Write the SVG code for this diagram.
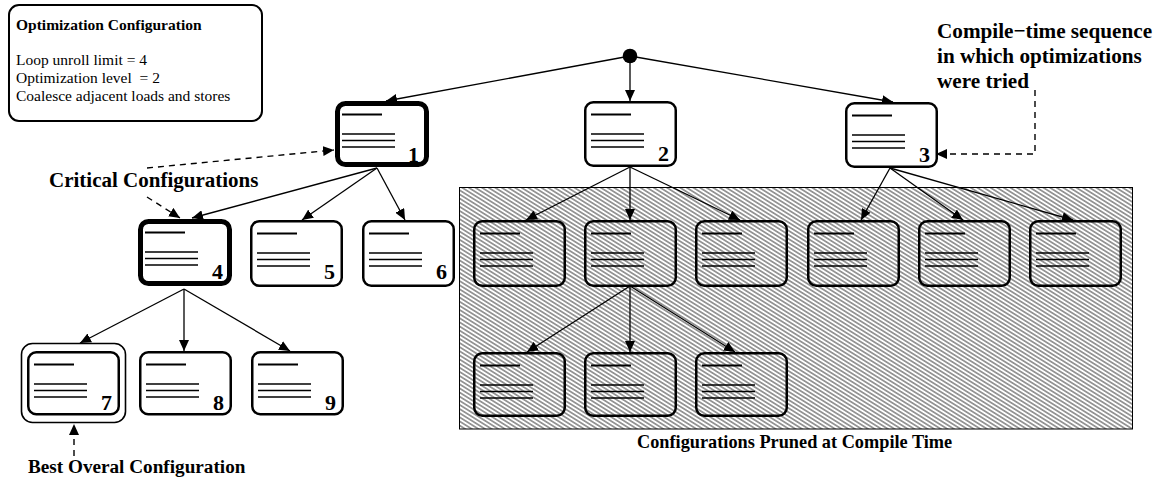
<svg xmlns="http://www.w3.org/2000/svg" xmlns:xlink="http://www.w3.org/1999/xlink" width="1155" height="479" viewBox="0 0 1155 479">
<style>
.box{fill:#fff;stroke:#000;stroke-width:2.5}
.hbox{fill:none;stroke:#000;stroke-width:2.5}
.thick{fill:#fff;stroke:#000;stroke-width:5}
.sl{stroke:#000;stroke-width:2.2}
.ll{stroke:#000;stroke-width:1.3}
.num{font-family:"Liberation Serif",serif;font-weight:bold;font-size:22px;text-anchor:end}
.lbl{font-family:"Liberation Serif",serif;font-weight:bold;font-size:20px}
.cfg{font-family:"Liberation Serif",serif;font-size:15.5px}
.edge{stroke:#000;stroke-width:1.3;fill:none;marker-end:url(#ah)}
.dash{stroke:#000;stroke-width:1.4;fill:none;stroke-dasharray:6,5;marker-end:url(#ah)}
</style>
<defs>
<marker id="ah" markerUnits="userSpaceOnUse" markerWidth="11" markerHeight="10" refX="11" refY="5" orient="auto">
<path d="M0,0 L11,5 L0,10 z" fill="#000"/>
</marker>
<pattern id="hatch" patternUnits="userSpaceOnUse" width="10" height="3.5" patternTransform="rotate(32)">
<line x1="0" y1="1.75" x2="10" y2="1.75" stroke="#111" stroke-width="0.85"/>
</pattern>
<g id="lines">
<line class="sl" x1="7" y1="13.5" x2="47" y2="13.5"/>
<line class="ll" x1="7" y1="33" x2="60" y2="33"/>
<line class="ll" x1="7" y1="39.5" x2="60" y2="39.5"/>
<line class="ll" x1="7" y1="46" x2="60" y2="46"/>
</g>
</defs>
<rect width="1155" height="479" fill="#fff"/>

<!-- Configuration legend -->
<g id="config">
<rect x="9" y="5" width="253" height="116" rx="10" fill="#fff" stroke="#000" stroke-width="2"/>
<text x="16" y="30" class="cfg" style="font-weight:bold">Optimization Configuration</text>
<text x="16" y="65" class="cfg">Loop unroll limit = 4</text>
<text x="16" y="83" class="cfg" xml:space="preserve">Optimization level  = 2</text>
<text x="16" y="101" class="cfg">Coalesce adjacent loads and stores</text>
</g>

<!-- Pruned region -->
<g id="pruned">
<rect x="459.5" y="187.5" width="673" height="241.5" fill="url(#hatch)" stroke="#000" stroke-width="1"/>
<text x="637" y="448" class="lbl" style="font-size:18.3px">Configurations Pruned at Compile Time</text>
</g>

<!-- root -->
<g id="root"><circle cx="630" cy="56" r="7.3" fill="#000"/></g>

<!-- connectors -->
<g id="connectors">
<line class="edge" x1="630" y1="56" x2="386" y2="101"/>
<line class="edge" x1="630" y1="56" x2="630" y2="101"/>
<line class="edge" x1="630" y1="56" x2="893" y2="102"/>
<line class="edge" x1="377" y1="168" x2="192" y2="218"/>
<line class="edge" x1="377" y1="168" x2="302" y2="220"/>
<line class="edge" x1="377" y1="168" x2="405" y2="220"/>
<line class="edge" x1="630" y1="167" x2="526" y2="220"/>
<line class="edge" x1="630" y1="167" x2="630" y2="220"/>
<line class="edge" x1="630" y1="167" x2="740" y2="220"/>
<line class="edge" x1="890" y1="168" x2="861" y2="220"/>
<line class="edge" x1="890" y1="168" x2="963" y2="220"/>
<line class="edge" x1="890" y1="168" x2="1073" y2="220"/>
<line class="edge" x1="184" y1="289" x2="80" y2="343"/>
<line class="edge" x1="184" y1="289" x2="184" y2="351"/>
<line class="edge" x1="184" y1="289" x2="290" y2="351"/>
<line class="edge" x1="630" y1="286" x2="527" y2="352"/>
<line class="edge" x1="630" y1="286" x2="630" y2="352"/>
<line class="edge" x1="630" y1="286" x2="735" y2="352"/>
<line class="dash" x1="147" y1="168" x2="334" y2="150"/>
<line class="dash" x1="147" y1="197" x2="180" y2="218"/>
<polyline class="dash" points="1035,90 1035,154 936,154"/>
<line class="dash" x1="74" y1="456" x2="74" y2="424"/>
</g>

<!-- labels -->
<g id="labels">
<text x="49" y="187" class="lbl" style="font-size:21px">Critical Configurations</text>
<text x="28" y="473" class="lbl" style="font-size:19.2px">Best Overal Configuration</text>
<text x="937" y="38" class="lbl" style="font-size:21.2px">Compile−time sequence</text>
<text x="937" y="63" class="lbl" style="font-size:21.2px">in which optimizations</text>
<text x="937" y="88" class="lbl" style="font-size:21.2px">were tried</text>
</g>

<!-- nodes -->
<g id="n1" transform="translate(335,101)"><rect class="thick" x="2.5" y="2.5" width="89" height="61" rx="8"/><use xlink:href="#lines"/><text class="num" x="84" y="61">1</text></g>
<g id="n2" transform="translate(584,101)"><rect class="box" x="1.25" y="1.25" width="90.5" height="63.5" rx="8"/><use xlink:href="#lines"/><text class="num" x="85" y="60">2</text></g>
<g id="n3" transform="translate(845,102)"><rect class="box" x="1.25" y="1.25" width="90.5" height="63.5" rx="8"/><use xlink:href="#lines"/><text class="num" x="85" y="60">3</text></g>
<g id="n4" transform="translate(138,219)"><rect class="thick" x="2.5" y="2.5" width="89" height="62" rx="8"/><use xlink:href="#lines"/><text class="num" x="85" y="60">4</text></g>
<g id="n5" transform="translate(250,220)"><rect class="box" x="1.25" y="1.25" width="90.5" height="64.5" rx="8"/><use xlink:href="#lines"/><text class="num" x="85" y="59">5</text></g>
<g id="n6" transform="translate(362,220)"><rect class="box" x="1.25" y="1.25" width="90.5" height="64.5" rx="8"/><use xlink:href="#lines"/><text class="num" x="85" y="59">6</text></g>
<g id="p1" transform="translate(473,220)"><rect class="hbox" x="1.25" y="1.25" width="90.5" height="64.5" rx="8"/><use xlink:href="#lines"/></g>
<g id="p2" transform="translate(584,220)"><rect class="hbox" x="1.25" y="1.25" width="90.5" height="64.5" rx="8"/><use xlink:href="#lines"/></g>
<g id="p3" transform="translate(695,220)"><rect class="hbox" x="1.25" y="1.25" width="90.5" height="64.5" rx="8"/><use xlink:href="#lines"/></g>
<g id="p4" transform="translate(807,220)"><rect class="hbox" x="1.25" y="1.25" width="90.5" height="64.5" rx="8"/><use xlink:href="#lines"/></g>
<g id="p5" transform="translate(918,220)"><rect class="hbox" x="1.25" y="1.25" width="90.5" height="64.5" rx="8"/><use xlink:href="#lines"/></g>
<g id="p6" transform="translate(1029,220)"><rect class="hbox" x="1.25" y="1.25" width="90.5" height="64.5" rx="8"/><use xlink:href="#lines"/></g>
<g id="n7" transform="translate(27,351)"><rect x="-5.5" y="-7.5" width="104" height="79" rx="11" fill="#fff" stroke="#000" stroke-width="1.6"/><rect class="box" x="1.25" y="1.25" width="90.5" height="62" rx="8"/><use xlink:href="#lines"/><text class="num" x="85" y="59">7</text></g>
<g id="n8" transform="translate(139,351)"><rect class="box" x="1.25" y="1.25" width="90.5" height="62" rx="8"/><use xlink:href="#lines"/><text class="num" x="85" y="59">8</text></g>
<g id="n9" transform="translate(251,351)"><rect class="box" x="1.25" y="1.25" width="90.5" height="62" rx="8"/><use xlink:href="#lines"/><text class="num" x="85" y="59">9</text></g>
<g id="p7" transform="translate(473,352)"><rect class="hbox" x="1.25" y="1.25" width="90.5" height="62.5" rx="8"/><use xlink:href="#lines"/></g>
<g id="p8" transform="translate(584,352)"><rect class="hbox" x="1.25" y="1.25" width="90.5" height="62.5" rx="8"/><use xlink:href="#lines"/></g>
<g id="p9" transform="translate(695,352)"><rect class="hbox" x="1.25" y="1.25" width="90.5" height="62.5" rx="8"/><use xlink:href="#lines"/></g>
</svg>
